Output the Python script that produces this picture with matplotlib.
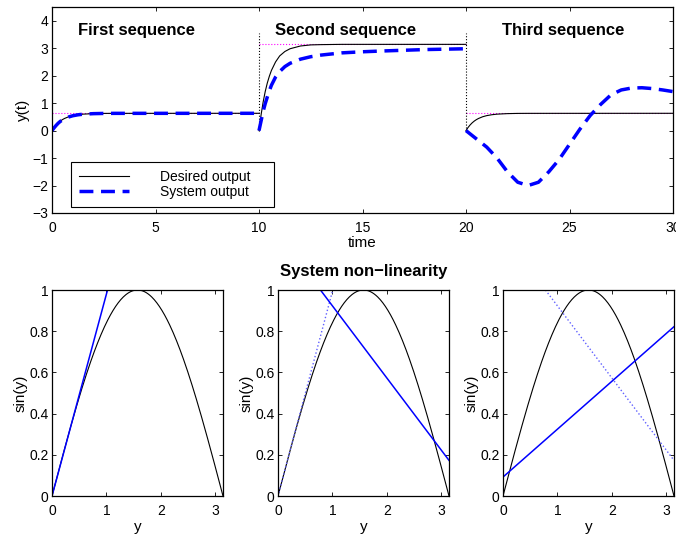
import numpy as np
import matplotlib
matplotlib.use("Agg")
import matplotlib.pyplot as plt

plt.rcParams['font.family'] = ['Liberation Sans', 'DejaVu Sans']
plt.rcParams['font.size'] = 10

# ---- data: top panel (three sequences) ----
seq_titles = ["First sequence", "Second sequence", "Third sequence"]
seq_title_x = [4.1, 14.2, 24.7]

t1 = [0, 0.1, 0.2, 0.3, 0.4, 0.5, 0.6, 0.8, 1.0, 1.25, 1.5, 2.0, 2.5, 3.0, 10.0]
desired1 = [0, 0.114, 0.207, 0.284, 0.347, 0.398, 0.440, 0.503, 0.545, 0.578, 0.599, 0.618, 0.626, 0.628, 0.63]
system1 = [0, 0.10, 0.19, 0.27, 0.335, 0.385, 0.43, 0.495, 0.54, 0.575, 0.597, 0.617, 0.625, 0.628, 0.63]

t2 = [10, 10.1, 10.2, 10.3, 10.4, 10.5, 10.6, 10.8, 11.0, 11.25, 11.5, 12.0, 12.5, 13.0, 14.0, 20.0]
desired2 = [0, 0.57, 1.04, 1.42, 1.73, 1.98, 2.19, 2.50, 2.72, 2.88, 2.98, 3.08, 3.12, 3.13, 3.14, 3.14]
t2s = [10, 10.1, 10.2, 10.3, 10.4, 10.5, 10.6, 10.8, 11.0, 11.25, 11.5, 12.0, 12.5, 13.0, 14.0, 15.0, 16.0, 18.0, 20.0]
system2 = [0.0, 0.35, 0.7, 0.98, 1.22, 1.45, 1.65, 1.95, 2.15, 2.33, 2.45, 2.6, 2.69, 2.75, 2.83, 2.87, 2.9, 2.95, 2.98]

t3 = [20, 20.1, 20.2, 20.3, 20.4, 20.5, 20.6, 20.8, 21.0, 21.25, 21.5, 22.0, 22.5, 23.0, 30.0]
desired3 = [0, 0.114, 0.207, 0.284, 0.347, 0.398, 0.440, 0.503, 0.545, 0.578, 0.599, 0.618, 0.626, 0.628, 0.63]
t3s = [20, 20.5, 21, 21.5, 22, 22.5, 23, 23.5, 24, 24.5, 25, 25.5, 26, 26.5, 27, 27.5, 28, 28.5, 29, 29.5, 30]
system3 = [0, -0.3, -0.6, -1.0, -1.5, -1.88, -2.0, -1.88, -1.5, -1.05, -0.5, 0.05, 0.55, 0.95, 1.3, 1.48, 1.55, 1.56, 1.53, 1.48, 1.42]

ref_t = [[0, 10], [10, 20], [20, 30]]
ref_y = [0.63, 3.14, 0.63]
boundary_t = [10, 20]
boundary_y = [0, 3.55]

legend_labels = ['Desired output', 'System output']

# ---- data: bottom panels (non-linearity approximations) ----
sin_x = np.linspace(0, np.pi, 200)
line_solid_x = [[0, 1.02], [0.78, 3.1416], [0, 3.1416]]
line_solid_y = [[0, 1.0], [1.0, 0.173], [0.092, 0.822]]
line_dot_x = [None, [0, 1.006], [0.78, 3.1416]]
line_dot_y = [None, [0, 1.0], [1.0, 0.173]]

W, H = 676, 538
fig = plt.figure(figsize=(W / 100, H / 100), dpi=100)

def style(ax):
    ax.tick_params(direction='in', top=True, right=True, length=3, width=0.6, labelsize=10)
    ax.tick_params(axis='x', pad=5.5)
    ax.tick_params(axis='y', pad=2.5)
    for s in ax.spines.values():
        s.set_linewidth(0.9)

ax = fig.add_axes([52 / W, 1 - 213 / H, (673 - 52) / W, (213 - 7) / H])
style(ax)
for (ta, tb), yv in zip(ref_t, ref_y):
    ax.plot([ta, tb], [yv, yv], ':', color='magenta', lw=0.8)
for tb in boundary_t:
    ax.plot([tb, tb], boundary_y, ':', color='black', lw=0.8)
h1, = ax.plot(t1, desired1, '-', color='black', lw=0.8)
ax.plot(t2, desired2, '-', color='black', lw=0.8)
ax.plot(t3, desired3, '-', color='black', lw=0.8)
dash = dict(color='blue', lw=2.5, linestyle=(0, (4, 2.2)))
h2, = ax.plot(t1, system1, **dash)
ax.plot(t2s, system2, **dash)
ax.plot(t3s, system3, **dash)
for txt, xt in zip(seq_titles, seq_title_x):
    ax.text(xt, 3.64, txt, ha='center', va='center', fontsize=12, fontweight='bold')
ax.set_xlim(0, 30)
ax.set_ylim(-3, 4.5)
ax.set_xticks([0, 5, 10, 15, 20, 25, 30])
ax.set_yticks([-3, -2, -1, 0, 1, 2, 3, 4])
ax.set_yticklabels(['\u22123', '\u22122', '\u22121', '0', '1', '2', '3', '4'])
ax.set_xlabel('time', fontsize=11, labelpad=1)
ax.set_ylabel('y(t)', fontsize=11, labelpad=2)
leg = ax.legend([h1, h2], [s + '    ' for s in legend_labels], loc='lower left',
                bbox_to_anchor=(19 / 621, 6 / 206), fancybox=False, edgecolor='black',
                framealpha=1, handlelength=3.6, handletextpad=2.2, borderpad=0.6,
                labelspacing=0.05, fontsize=10, borderaxespad=0)
leg.get_frame().set_linewidth(0.8)

lefts = [52, 278, 503]
for i, lx in enumerate(lefts):
    a = fig.add_axes([lx / W, 1 - 496 / H, 171 / W, (496 - 290) / H])
    style(a)
    a.plot(sin_x, np.sin(sin_x), '-', color='black', lw=0.8)
    if line_dot_x[i] is not None:
        a.plot(line_dot_x[i], line_dot_y[i], ':', color='#6060ff', lw=1.0)
    a.plot(line_solid_x[i], line_solid_y[i], '-', color='blue', lw=1.1)
    a.set_xlim(0, np.pi)
    a.set_ylim(0, 1)
    a.set_xticks([0, 1, 2, 3])
    a.set_yticks([0, 0.2, 0.4, 0.6, 0.8, 1])
    a.set_yticklabels(['0', '0.2', '0.4', '0.6', '0.8', '1'])
    a.set_xlabel('y', fontsize=11, labelpad=2)
    a.set_ylabel('sin(y)', fontsize=11, labelpad=1)
    if i == 1:
        a.set_title('System non\u2212linearity', fontsize=12, fontweight='bold', pad=10)

fig.savefig('out.png', dpi=100)
